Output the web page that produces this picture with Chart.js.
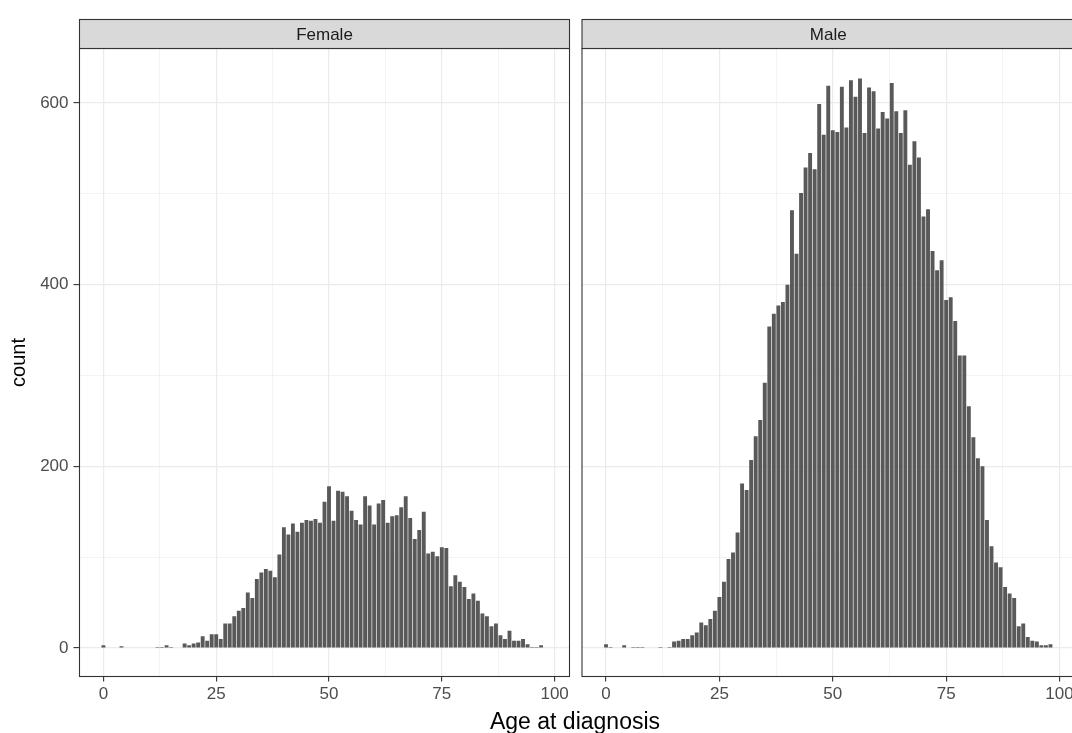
<!DOCTYPE html>
<html><head><meta charset="utf-8">
<script src="https://cdn.jsdelivr.net/npm/chart.js@4/dist/chart.umd.min.js"></script>
<style>
html,body{margin:0;padding:0;background:#fff;overflow:hidden;width:1072px;height:733px;}
#wrap{position:relative;width:1072px;height:733px;overflow:hidden;background:#fff;}
canvas{position:absolute;top:0;}
#cF{left:0;width:1072px;height:733px;}
#cM{left:575px;width:520px;height:733px;}
</style></head><body>
<div id="wrap"><canvas id="cF" width="1072" height="733"></canvas><canvas id="cM" width="520" height="733"></canvas></div>
<script>
// ---- data ----
const panels = ['Female', 'Male'];
const ages = [0,1,2,3,4,5,6,7,8,9,10,11,12,13,14,15,16,17,18,19,20,21,22,23,24,25,26,27,28,29,30,31,32,33,34,35,36,37,38,39,40,41,42,43,44,45,46,47,48,49,50,51,52,53,54,55,56,57,58,59,60,61,62,63,64,65,66,67,68,69,70,71,72,73,74,75,76,77,78,79,80,81,82,83,84,85,86,87,88,89,90,91,92,93,94,95,96,97,98];
const femaleCounts = [3,0,0,0,2,0,0,0,0,0,0,0,1,1,3,1,0,0,5,3,5,6,13,8,15,15,10,27,27,35,41,44,61,55,76,83,87,85,78,103,133,125,137,128,138,141,140,142,138,161,178,140,173,172,167,151,141,136,167,157,136,159,163,138,145,146,155,167,143,120,130,150,104,106,101,111,110,68,80,73,67,54,60,52,38,35,24,27,14,10,19,8,8,10,4,1,1,3,0];
const maleCounts = [4,1,0,0,3,0,1,1,1,0,0,0,1,0,1,7,8,10,10,14,17,28,25,32,41,56,73,98,105,127,181,174,207,233,251,292,354,368,377,381,400,482,434,501,529,545,527,599,565,619,570,568,618,573,625,607,627,567,617,613,572,590,583,622,591,567,592,532,558,540,475,483,437,416,427,383,386,360,322,322,266,232,209,200,141,112,94,89,67,60,55,24,27,12,8,7,3,3,4];
const xTickValues = [0,12.5,25,37.5,50,62.5,75,87.5,100];
const xMajorTicks = [0,25,50,75,100];
const yTickValues = [0,100,200,300,400,500,600];
const yMajorTicks = [0,200,400,600];
const yTitle = 'count';
const xTitle = 'Age at diagnosis';

// ---- style ----
const FONT = '"Liberation Sans", Arial, Helvetica, sans-serif';
Chart.defaults.font.family = FONT;
const X_MIN = -5.3, X_MAX = 103.3, Y_MIN = -31.4, Y_MAX = 660;
const isMajor = (list, v) => list.some(m => Math.abs(m - v) < 1e-6);

const panelPlugin = {
  id: 'panel',
  afterDraw(chart, args, opts) {
    const {ctx, chartArea: a} = chart;
    ctx.save();
    ctx.strokeStyle = '#333333';
    ctx.lineWidth = 1.1;
    ctx.strokeRect(a.left, a.top, a.right - a.left, a.bottom - a.top);
    const sh = 29;
    ctx.fillStyle = '#D9D9D9';
    ctx.fillRect(a.left, a.top - sh, a.right - a.left, sh);
    ctx.strokeRect(a.left, a.top - sh, a.right - a.left, sh);
    ctx.fillStyle = '#1A1A1A';
    ctx.font = '17px ' + FONT;
    ctx.textAlign = 'center';
    ctx.textBaseline = 'middle';
    ctx.fillText(opts.label, (a.left + a.right) / 2, a.top - sh / 2 + 1);
    if (opts.xTitle) {
      ctx.fillStyle = '#000000';
      ctx.font = '23px ' + FONT;
      ctx.textBaseline = 'alphabetic';
      ctx.fillText(opts.xTitle, opts.xTitleX, opts.xTitleY);
    }
    ctx.restore();
  }
};

function makeChart(id, label, counts, showYLabels, pad, xTitleOpt) {
  return new Chart(document.getElementById(id), {
    type: 'bar',
    data: {
      datasets: [{
        data: ages.map((a, i) => ({x: a, y: counts[i]})),
        backgroundColor: '#595959',
        borderWidth: 0,
        barPercentage: 0.86,
        categoryPercentage: 1
      }]
    },
    options: {
      responsive: false,
      animation: false,
      devicePixelRatio: 1,
      layout: {padding: pad},
      plugins: {
        legend: {display: false},
        tooltip: {enabled: false},
        title: {display: false},
        panel: Object.assign({label}, xTitleOpt || {})
      },
      scales: {
        x: {
          type: 'linear', min: X_MIN, max: X_MAX, offset: false,
          afterBuildTicks(s) { s.ticks = xTickValues.map(v => ({value: v})); },
          afterFit(s) { s.height = 56.5; },
          grid: {
            offset: false, color: '#EBEBEB',
            lineWidth: c => (c.tick && isMajor(xMajorTicks, c.tick.value)) ? 1.2 : 0.6,
            tickLength: 5,
            tickColor: c => (c.tick && isMajor(xMajorTicks, c.tick.value)) ? '#333333' : 'rgba(0,0,0,0)',
            tickWidth: 1.1
          },
          border: {display: false},
          ticks: {
            autoSkip: false, maxRotation: 0, minRotation: 0, padding: 3,
            color: '#4D4D4D', font: {size: 17},
            callback: v => isMajor(xMajorTicks, v) ? String(v) : ''
          }
        },
        y: {
          type: 'linear', min: Y_MIN, max: Y_MAX,
          afterBuildTicks(s) { s.ticks = yTickValues.map(v => ({value: v})); },
          afterFit(s) { s.width = showYLabels ? 79.5 : 0; },
          grid: {
            color: '#EBEBEB',
            lineWidth: c => (c.tick && isMajor(yMajorTicks, c.tick.value)) ? 1.2 : 0.6,
            drawTicks: showYLabels,
            tickLength: 6,
            tickColor: c => (c.tick && isMajor(yMajorTicks, c.tick.value)) ? '#333333' : 'rgba(0,0,0,0)',
            tickWidth: 1.1
          },
          border: {display: false},
          title: showYLabels ? {display: true, text: yTitle, color: '#000000', font: {size: 20}, padding: {top: 7, bottom: 0}} : {display: false},
          ticks: {
            display: showYLabels, autoSkip: false, padding: 5,
            color: '#4D4D4D', font: {size: 17},
            callback: v => isMajor(yMajorTicks, v) ? String(v) : ''
          }
        }
      }
    },
    plugins: [panelPlugin]
  });
}

makeChart('cF', panels[0], femaleCounts, true,
  {top: 48.5, right: 1072 - 569.5, bottom: 0, left: 0},
  {xTitle: xTitle, xTitleX: 575, xTitleY: 729});
makeChart('cM', panels[1], maleCounts, false,
  {top: 48.5, right: 20.5, bottom: 0, left: 7}, null);
</script>
</body></html>
